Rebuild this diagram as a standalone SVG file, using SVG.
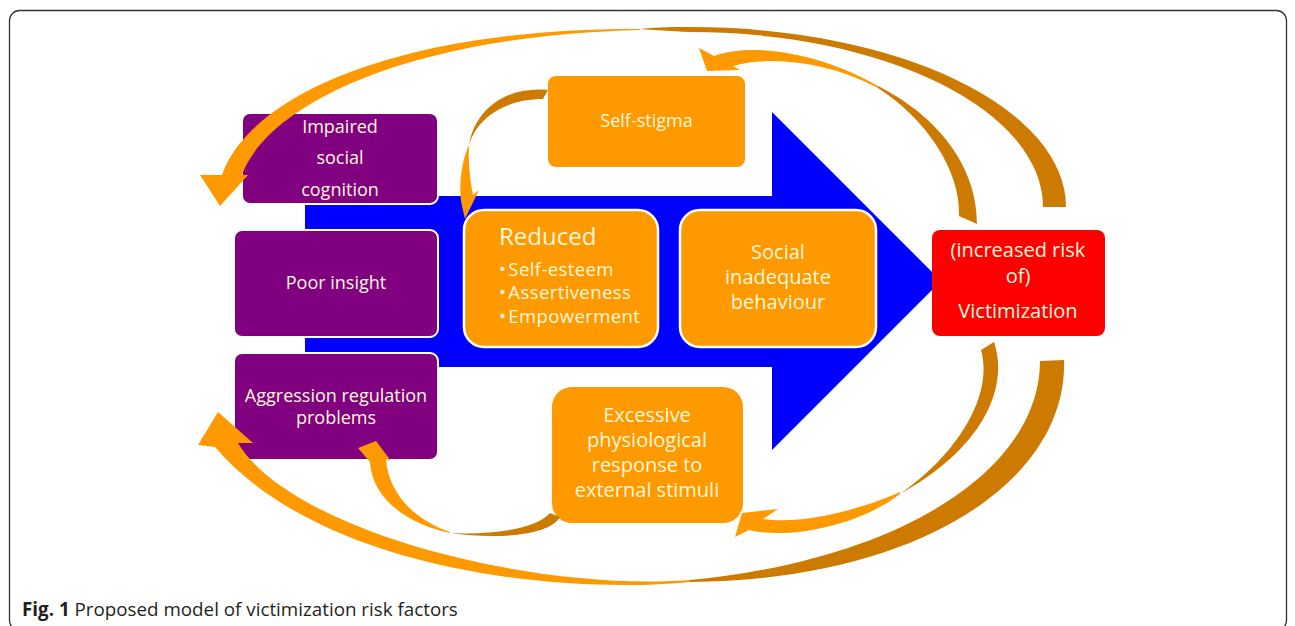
<svg xmlns="http://www.w3.org/2000/svg" width="1295" height="626" viewBox="0 0 1295 626">
<style>
.t{font-family:"Open Sans","Liberation Sans",sans-serif;fill:#fff8dc;text-anchor:middle}
.s18{font-size:18px}
.s20{font-size:20px}
.purple{fill:#800080;stroke:#fff;stroke-width:2}
.orange{fill:#f90}
.wb{stroke:#fff;stroke-width:2.5}
.bright{fill:#f90}
.dark{fill:#cc7a00}
.cap{font-family:"Open Sans","Liberation Sans",sans-serif;font-size:18.8px;fill:#231f20}
</style>
<rect x="9.5" y="10.5" width="1277" height="620" rx="10" fill="#fff" stroke="#333" stroke-width="1.3"/>
<g id="main-arrow">
<path d="M305,196 L772,196 L772,112 L941,281 L772,450 L772,367 L305,367 Z" fill="#00f"/>
</g>
<g id="node-impaired">
<rect class="purple" x="242" y="113" width="196" height="91" rx="8"/>
<text class="t s18" x="340" y="133">Impaired</text>
<text class="t s18" x="340" y="164">social</text>
<text class="t s18" x="340" y="196">cognition</text>
</g>
<g id="node-poor-insight">
<rect class="purple" x="234" y="230" width="204" height="107" rx="8"/>
<text class="t s18" x="336" y="289">Poor insight</text>
</g>
<g id="node-aggression">
<rect class="purple" x="234" y="353" width="204" height="107" rx="8"/>
<text class="t s18" x="336" y="402">Aggression regulation</text>
<text class="t s18" x="336" y="424">problems</text>
</g>
<g id="node-self-stigma">
<rect class="orange" x="548" y="76" width="197" height="91" rx="8"/>
<text class="t s18" x="646.5" y="127">Self-stigma</text>
</g>
<g id="node-reduced">
<rect class="orange wb" x="464" y="210" width="194" height="137" rx="20"/>
<text class="t" x="499" y="245" style="font-size:24px;text-anchor:start">Reduced</text>
<g class="t" style="font-size:18.5px;text-anchor:start;letter-spacing:0.4px">
<text x="499" y="275.5">•<tspan dx="2">Self-esteem</tspan></text>
<text x="499" y="299">•<tspan dx="2">Assertiveness</tspan></text>
<text x="499" y="322.5">•<tspan dx="2">Empowerment</tspan></text>
</g>
</g>
<g id="node-social">
<rect class="orange wb" x="680" y="210" width="196" height="137" rx="20"/>
<text class="t s20" x="778" y="259">Social</text>
<text class="t s20" x="778" y="284">inadequate</text>
<text class="t s20" x="778" y="309">behaviour</text>
</g>
<g id="node-excessive">
<rect class="orange" x="552" y="387" width="191" height="136" rx="20"/>
<text class="t s20" x="647" y="422">Excessive</text>
<text class="t s20" x="647" y="447">physiological</text>
<text class="t s20" x="647" y="472">response to</text>
<text class="t s20" x="647" y="497">external stimuli</text>
</g>
<g id="node-victimization">
<rect x="932" y="230" width="173" height="106" rx="8" fill="#f00"/>
<text class="t s20" x="1018" y="257">(increased risk</text>
<text class="t s20" x="1018" y="283">of)</text>
<text class="t s20" x="1018" y="318">Victimization</text>
</g>
<g id="connectors">
<g id="arrow-victim-to-impaired">
<path class="dark" d="M640,29 C660,27 675,27 690,27 A376,180 0 0 1 1066,207 L1043,207 A353,175 0 0 0 690,32 C670,31 655,30 640,29 Z"/>
<path class="bright" d="M222,175 C250,95 400,28 640,29 L640,30 C400,36 266,108 242,175 L248,175 L220,206 L200,175 Z"/>
</g>
<g id="arrow-victim-to-selfstigma">
<path class="dark" d="M878,86 C930,112 977,160 977,224 L959,216 C961,170 925,118 878,88 Z"/>
<path class="bright" d="M878,86 C830,58 760,40 714,56 L699,48 L707,71 L740,70 L733,66 C770,55 830,62 878,88 Z"/>
</g>
<g id="arrow-victim-to-aggression">
<path class="dark" d="M690,582 C920,580 1068,480 1064,360 L1040,361 C1040,470 900,560 690,580 Z"/>
<path class="bright" d="M690,582 C560,595 320,570 215,447 L198,445 L218,412 L253,443 L238,443 C290,530 530,592 690,580 Z"/>
</g>
<g id="arrow-victim-to-excessive">
<path class="dark" d="M981,350 L994,342 C1010,390 980,450 900,494 C950,460 995,400 981,350 Z"/>
<path class="bright" d="M900,494 C860,525 790,540 749,530 L735,537 L742,513 L778,509 L763,519 C800,525 860,510 900,492 Z"/>
</g>
<g id="arrow-selfstigma-to-reduced">
<path class="dark" d="M548,90 C505,86 475,110 469,145 C477,118 505,99 543,99 Z"/>
<path class="bright" d="M469,145 C462,160 458,185 462,206 L465,219 L479,190 L473,195 C470,180 468,160 469,147 Z"/>
</g>
<g id="arrow-excessive-to-aggression">
<path class="dark" d="M550,513 L560,517 C550,535 500,540 450,533 C490,535 535,530 550,513 Z"/>
<path class="bright" d="M450,533 C410,525 372,500 370,462 L358,448 L376,441 L391,461 L386,459 C388,490 410,518 450,532 Z"/>
</g>
</g>
<text class="cap" x="22" y="616"><tspan font-weight="bold">Fig. 1</tspan> Proposed model of victimization risk factors</text>
</svg>
